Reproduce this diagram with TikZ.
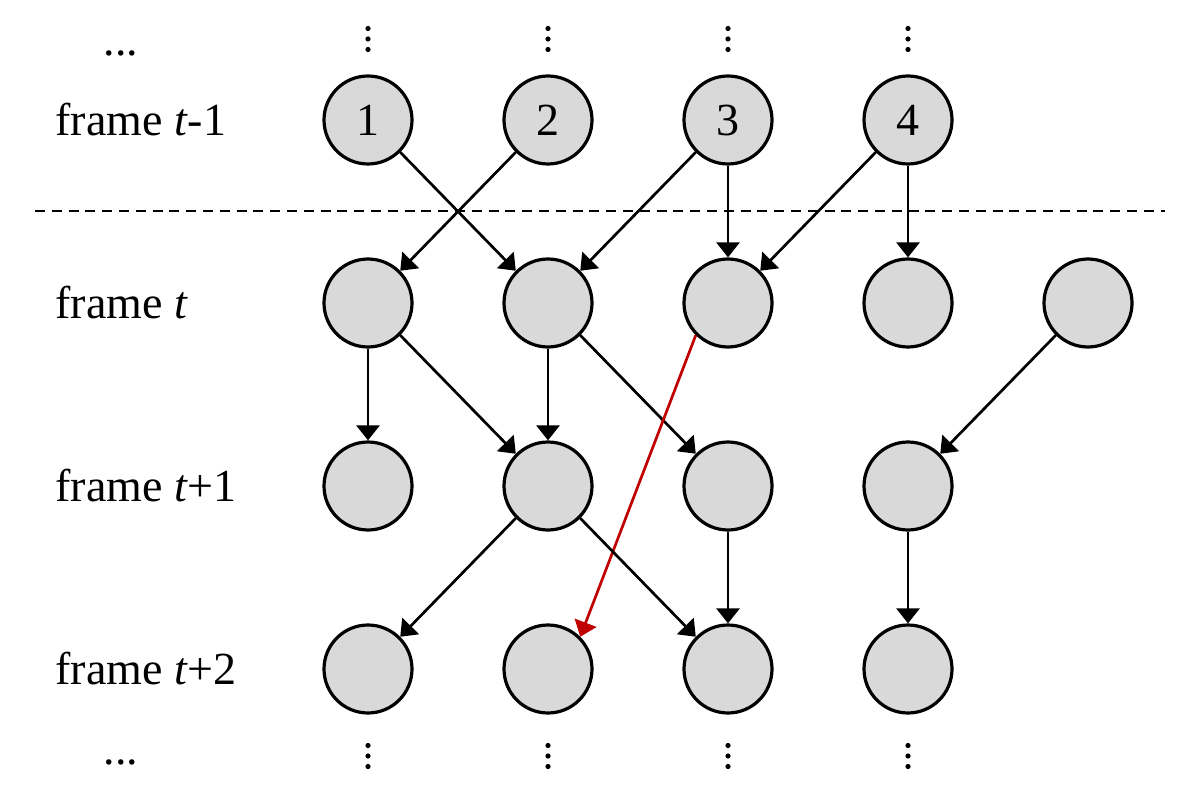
\documentclass[tikz,border=0pt]{standalone}
\usepackage{fontspec}
\setmainfont{Liberation Serif}
\definecolor{nodegray}{RGB}{217,217,217}
\definecolor{linkred}{RGB}{192,0,0}
\usepackage{tikz}
\usetikzlibrary{arrows.meta}

\begin{document}
\begin{tikzpicture}[x=0.5pt, y=-0.5pt,
    font=\fontsize{23}{27}\selectfont,
    objnode/.style={circle, draw, line width=1.6pt, fill=nodegray, minimum size=44pt, inner sep=0pt},
    rowlabel/.style={anchor=west, inner sep=0pt},
    dotsnode/.style={inner sep=0pt},
    link/.style={-{Triangle[length=7.5pt,width=11.5pt]}, line width=1.35pt}]
    \useasboundingbox (0,0) rectangle (1192,796);

    \foreach \i in {1,...,4}
      \node[objnode] (a\i) at ({368+180*(\i-1)},120) {\i};
    \foreach \i in {1,...,5}
      \node[objnode] (b\i) at ({368+180*(\i-1)},303) {};
    \foreach \i in {1,...,4} {
      \node[objnode] (c\i) at ({368+180*(\i-1)},486) {};
      \node[objnode] (d\i) at ({368+180*(\i-1)},669) {};
      \foreach \dy in {-10.5,0,10.5} {
        \fill ({368+180*(\i-1)},39+\dy) circle (2.6);
        \fill ({368+180*(\i-1)},756+\dy) circle (2.6);
      }
    }

    \node[rowlabel] (la) at (55,120) {frame \textit{t}-1};
    \node[rowlabel] (lb) at (55,303) {frame \textit{t}};
    \node[rowlabel] (lc) at (55,486) {frame \textit{t}+1};
    \node[rowlabel] (ld) at (55,669) {frame \textit{t}+2};
    \node[dotsnode, anchor=base] (ltop) at (121,56) {...};
    \node[dotsnode, anchor=base] (lbot) at (121,764) {...};

    \draw[line width=1pt, dash pattern=on 5pt off 3.4pt] (35,211) -- (1165,211);

    \draw[link] (a1.south east) -- (b2.north west);
    \draw[link] (a2.south west) -- (b1.north east);
    \draw[link] (a3.south west) -- (b2.north east);
    \draw[link] (a3) -- (b3);
    \draw[link] (a4.south west) -- (b3.north east);
    \draw[link] (a4) -- (b4);

    \draw[link] (b1) -- (c1);
    \draw[link] (b1.south east) -- (c2.north west);
    \draw[link] (b2) -- (c2);
    \draw[link] (b2.south east) -- (c3.north west);
    \draw[link] (b5.south west) -- (c4.north east);
    \draw[link, linkred] (b3.south west) -- (d2.north east);

    \draw[link] (c2.south west) -- (d1.north east);
    \draw[link] (c2.south east) -- (d3.north west);
    \draw[link] (c3) -- (d3);
    \draw[link] (c4) -- (d4);
\end{tikzpicture}
\end{document}
